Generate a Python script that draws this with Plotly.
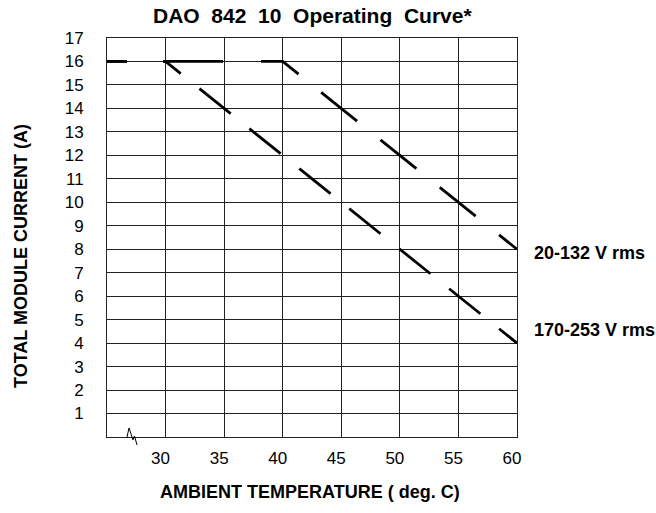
import plotly.graph_objects as go

# ---- data ----
temp_20_132 = [25, 40, 60]
curr_20_132 = [16, 16, 8]
temp_170_253 = [25, 30, 60]
curr_170_253 = [16, 16, 4]
x_ticks = [30, 35, 40, 45, 50, 55, 60]
y_ticks = list(range(1, 18))
label_20_132 = "20-132 V rms"
label_170_253 = "170-253 V rms"
title_text = "DAO  842  10  Operating  Curve*"
x_title = "AMBIENT TEMPERATURE ( deg. C)"
y_title = "TOTAL MODULE CURRENT (A)"

FONT = "Liberation Sans, Arial, sans-serif"


def dash_pattern(prefix, unit, total=700):
    vals = list(prefix)
    while sum(vals) < total:
        vals.extend(unit)
    return ",".join(f"{int(round(v))}px" for v in vals)


fig = go.Figure()
fig.add_trace(go.Scatter(
    x=temp_20_132, y=curr_20_132, mode="lines", name=label_20_132,
    line=dict(color="black", width=2.8,
              dash=dash_pattern([20, 36, 60, 38, 42, 29], [46, 30])),
    hoverinfo="skip",
))
fig.add_trace(go.Scatter(
    x=temp_170_253, y=curr_170_253, mode="lines", name=label_170_253,
    line=dict(color="black", width=2.8,
              dash=dash_pattern([20, 36, 22, 24], [40, 24])),
    hoverinfo="skip",
))

L, R, T, B = 107, 139, 38, 76
fig.update_layout(
    width=656, height=513, autosize=False,
    margin=dict(l=L, r=R, t=T, b=B, pad=0),
    paper_bgcolor="white", plot_bgcolor="white",
    showlegend=False,
    font=dict(family=FONT, color="black", size=17),
    xaxis=dict(
        range=[25, 60], tickvals=x_ticks, ticktext=[str(v) for v in x_ticks],
        showgrid=True, gridcolor="#222", gridwidth=1,
        showline=True, linecolor="#222", linewidth=1, mirror=True,
        zeroline=False, ticks="", ticklabelstandoff=6, ticklabelshift=-5,
        tickfont=dict(size=17, family=FONT, color="black"),
    ),
    yaxis=dict(
        range=[0, 17], tickvals=y_ticks, ticktext=[str(v) for v in y_ticks],
        showgrid=True, gridcolor="#222", gridwidth=1,
        showline=True, linecolor="#222", linewidth=1, mirror=True,
        zeroline=False, ticks="", ticklabelstandoff=19,
        tickfont=dict(size=17, family=FONT, color="black"),
    ),
)

W, H = 656 - L - R, 513 - T - B


def px(xp, yp):
    return (xp - L) / W, (513 - B - yp) / H


annotations = []
cx, cy = px(312, 16)
annotations.append(dict(text=f"<b>{title_text}</b>", x=cx, y=cy, xref="paper", yref="paper",
                        showarrow=False, xanchor="center", yanchor="middle",
                        font=dict(size=21, family=FONT, color="black")))
cx, cy = px(310, 492)
annotations.append(dict(text=f"<b>{x_title}</b>", x=cx, y=cy, xref="paper", yref="paper",
                        showarrow=False, xanchor="center", yanchor="middle",
                        font=dict(size=18, family=FONT, color="black")))
cx, cy = px(21, 256)
annotations.append(dict(text=f"<b>{y_title}</b>", x=cx, y=cy, xref="paper", yref="paper",
                        showarrow=False, xanchor="center", yanchor="middle", textangle=-90,
                        font=dict(size=18, family=FONT, color="black")))
# series labels placed next to the curve ends
annotations.append(dict(text=f"<b>{label_20_132}</b>", x=temp_20_132[-1], y=curr_20_132[-1],
                        xref="x", yref="y", showarrow=False, xanchor="left", yanchor="middle",
                        xshift=15, yshift=-4, font=dict(size=18, family=FONT, color="black")))
annotations.append(dict(text=f"<b>{label_170_253}</b>", x=temp_170_253[-1], y=curr_170_253[-1],
                        xref="x", yref="y", showarrow=False, xanchor="left", yanchor="middle",
                        xshift=15, yshift=13, font=dict(size=18, family=FONT, color="black")))
fig.update_layout(annotations=annotations)

# axis-break squiggle near the origin
pts = [(127, 437), (129, 428), (133, 440), (134.5, 436), (137, 445)]
path = "M " + " L ".join(f"{px(a, b)[0]:.4f},{px(a, b)[1]:.4f}" for a, b in pts)
fig.add_shape(type="path", path=path, xref="paper", yref="paper",
              line=dict(color="black", width=1))

fig.write_html("out.html", config={"displayModeBar": False},
               post_script="document.body.style.margin='0';")
